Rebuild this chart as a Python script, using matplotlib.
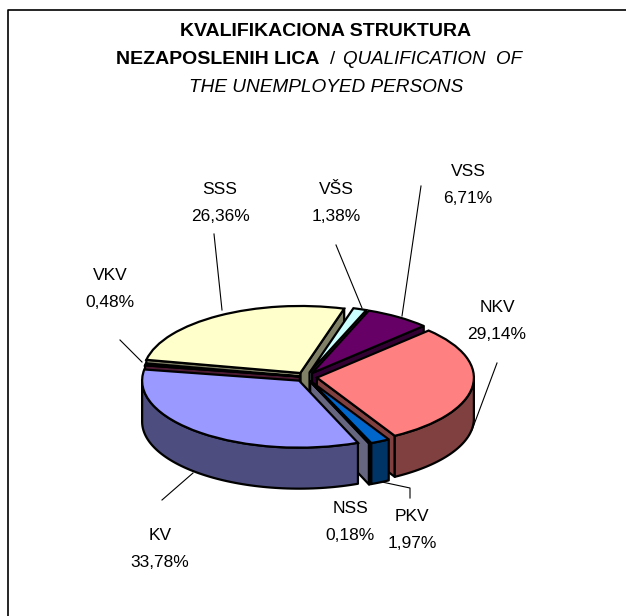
import matplotlib
matplotlib.use('Agg')
import matplotlib.pyplot as plt
import numpy as np
from matplotlib.patches import Polygon
from matplotlib.lines import Line2D

plt.rcParams['font.family'] = ['Liberation Sans', 'DejaVu Sans']

W, H = 626, 616

# clockwise from the front, same order as the office palette
names = ['KV', 'VKV', 'SSS', 'VŠS', 'VSS', 'NKV', 'PKV', 'NSS']
values = [33.78, 0.48, 26.36, 1.38, 6.71, 29.14, 1.97, 0.18]
labels = ['33,78%', '0,48%', '26,36%', '1,38%', '6,71%', '29,14%', '1,97%', '0,18%']
tops = ['#9999FF', '#993366', '#FFFFCC', '#CCFFFF', '#660066', '#FF8080', '#0066CC', '#CCCCFF']
label_px = [(160, 549), (110, 289), (220, 203), (336, 203), (468, 185), (497, 321), (412, 530), (350, 522)]
# back slices first so the front ones cover them
draw_order = ['SSS', 'VKV', 'VŠS', 'VSS', 'NKV', 'PKV', 'NSS', 'KV']

cx, cy = 306, 377
rx, ry, depth = 157, 67, 41
explode = [0.07, 0.04, 0.07, 0.07, 0.07, 0.07, 0.07, 0.07]


def px(x, y):
    return x / W, 1 - y / H


fig = plt.figure(figsize=(W / 100, H / 100), dpi=100)
ax = fig.add_axes([0, 0, 1, 1])
wedges, _ = ax.pie(values, colors=tops, startangle=-68, counterclock=False,
                   explode=explode, radius=1, wedgeprops={'edgecolor': 'black', 'linewidth': 1.6})
ax.set_aspect('auto')
ax.set_xlim(-cx / rx, (W - cx) / rx)
ax.set_ylim(-(H - cy) / ry, cy / ry)
ax.axis('off')

dz = depth / ry


def dark(col):
    rgb = np.array(matplotlib.colors.to_rgb(col))
    return tuple(rgb * 0.5)


def wall(pts, col, z):
    pts = np.array(pts)
    low = pts[::-1] - [0, dz]
    ax.add_patch(Polygon(np.vstack([pts, low]), closed=True, facecolor=dark(col),
                         edgecolor='black', linewidth=1.6, zorder=z, joinstyle='round'))


z = 3
for n in draw_order:
    i = names.index(n)
    w = wedges[i]
    c = np.array(w.center)
    t1, t2 = w.theta1, w.theta2
    # cut faces, only when they face the viewer
    if np.sin(np.radians(t1 - 90)) < 0:
        wall([c, c + [np.cos(np.radians(t1)), np.sin(np.radians(t1))]], tops[i], z)
    if np.sin(np.radians(t2 + 90)) < 0:
        wall([c, c + [np.cos(np.radians(t2)), np.sin(np.radians(t2))]], tops[i], z + 0.1)
    # outer rim, only the part facing the viewer
    ts = np.linspace(t1, t2, 80)
    ts = ts[np.sin(np.radians(ts)) < 0.03]
    if len(ts) > 1:
        rim = c + np.column_stack([np.cos(np.radians(ts)), np.sin(np.radians(ts))])
        wall(rim, tops[i], z + 0.2)
    w.set_zorder(z + 0.3)
    z += 1

# leader lines, in pixel positions of the picture
leaders = [[(193, 473), (162, 500)], [(142, 362), (120, 340)], [(222, 310), (214, 234)],
           [(362, 308), (336, 245)], [(402, 316), (421, 186)], [(472, 430), (497, 363)],
           [(382, 482), (410, 488), (410, 498)]]
for pts in leaders:
    xs, ys = zip(*[px(*p) for p in pts])
    fig.add_artist(Line2D(xs, ys, color='black', linewidth=0.8))

for n, l, (x, y) in zip(names, labels, label_px):
    fx, fy = px(x, y)
    fig.text(fx, fy, n + '\n' + l, ha='center', va='center', fontsize=12.5, linespacing=1.95)

# title
fig.text(*px(326, 32), 'KVALIFIKACIONA STRUKTURA', ha='center', va='center', fontsize=14, fontweight='bold')
fig.text(*px(116, 59), 'NEZAPOSLENIH LICA', ha='left', va='center', fontsize=14, fontweight='bold')
fig.text(*px(330, 59), '/', ha='left', va='center', fontsize=13.5)
fig.text(*px(343, 59), 'QUALIFICATION  OF', ha='left', va='center', fontsize=13.5, fontstyle='italic')
fig.text(*px(326, 87), 'THE UNEMPLOYED PERSONS', ha='center', va='center', fontsize=13.7, fontstyle='italic')

# chart area border, only left and top show in the picture
xs, ys = zip(*[px(*p) for p in [(8, 620), (8, 10), (630, 10)]])
fig.add_artist(Line2D(xs, ys, color='black', linewidth=1.2))

fig.savefig('out.png', dpi=100)
